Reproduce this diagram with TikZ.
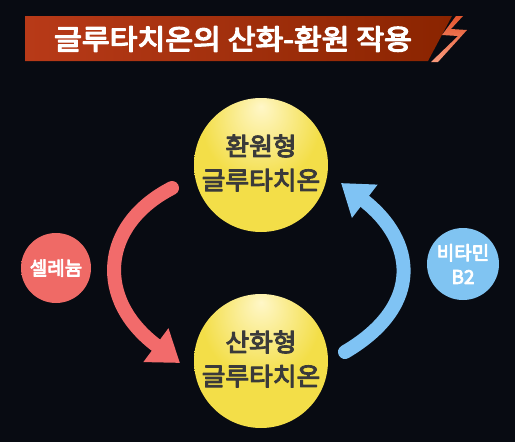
\documentclass[tikz,border=0pt]{standalone}
\usepackage{fontspec}
\setmainfont{Noto Sans CJK KR}
\usetikzlibrary{arrows.meta}
\definecolor{bgc}{HTML}{080B12}
\definecolor{bannerL}{HTML}{B83A18}
\definecolor{bannerR}{HTML}{8A2400}
\definecolor{boltT}{HTML}{E4552E}
\definecolor{boltB}{HTML}{F99A7C}
\definecolor{ylw}{HTML}{F3DE48}
\definecolor{ylwL}{HTML}{FFF7C8}
\definecolor{ylwD}{HTML}{C9B12A}
\definecolor{redc}{HTML}{EF6A66}
\definecolor{redD}{HTML}{B84442}
\definecolor{bluec}{HTML}{80C4F2}
\definecolor{blueD}{HTML}{5A98C4}
\definecolor{txt}{HTML}{3A3A3A}
\definecolor{arrred}{HTML}{F26B6B}
\definecolor{arrblue}{HTML}{7FC3F4}
% text drawn with fill+stroke render mode (heavier glyphs)
\newcommand{\outl}[3]{\special{pdf:code q 2 Tr 1 j #1 RG #2 w}#3\special{pdf:code Q}}
\pgfdeclareradialshading{yball}{\pgfpoint{0bp}{22bp}}{color(0bp)=(ylwL); color(22bp)=(ylw); color(58bp)=(ylw); color(72bp)=(ylwD)}
\pgfdeclareradialshading{rball}{\pgfpoint{0bp}{0bp}}{color(0bp)=(redc); color(40bp)=(redc); color(50bp)=(redD)}
\pgfdeclareradialshading{bball}{\pgfpoint{0bp}{0bp}}{color(0bp)=(bluec); color(40bp)=(bluec); color(50bp)=(blueD)}
\tikzset{
  bigball/.style={circle, minimum size=134pt, inner sep=0pt, shading=yball},
  redball/.style={circle, minimum size=70pt, inner sep=0pt, shading=rball},
  blueball/.style={circle, minimum size=72pt, inner sep=0pt, shading=bball},
  bigtxt/.style={font=\fontsize{25}{34}\selectfont, text=txt, align=center, xscale=1.03},
  smalltxt/.style={font=\fontsize{19}{24}\selectfont, text=white, align=center},
  bigarrow/.style={line width=14pt, line cap=round, -{Triangle[length=30pt,width=40pt]}},
}
\begin{document}
\begin{tikzpicture}[x=1pt,y=-1pt]
\fill[bgc] (0,0) rectangle (515,442);
\useasboundingbox (0,0) rectangle (515,442);
% banner
\shade[left color=bannerL, right color=bannerR] (25,16) -- (452,16) -- (428,61) -- (25,61) -- cycle;
\node[font=\fontsize{28}{30}\selectfont, text=white, xscale=1.08] (title) at (233,39) {\outl{1 1 1}{1.3}{글루타치온의 산화-환원 작용}};
% bolt
\shade[top color=boltT, bottom color=boltB] (456,16) -- (463,16) -- (451,29) -- (467,30) -- (438,62) -- (431,62) -- (458,36) -- (442,35) -- cycle;
% balls
\node[bigball] (reduced) at (261,165) {};
\node[bigball] (oxidized) at (261,361) {};
\node[redball] (selenium) at (56,268) {};
\node[blueball] (vitb) at (463,264) {};
\node[bigtxt] (redtxt) at (261,163) {\outl{0.23 0.23 0.23}{1.0}{환원형}\\\outl{0.23 0.23 0.23}{1.0}{글루타치온}};
\node[bigtxt] (oxtxt) at (261,359) {\outl{0.23 0.23 0.23}{1.0}{산화형}\\\outl{0.23 0.23 0.23}{1.0}{글루타치온}};
\node[smalltxt] (setxt) at (selenium) {\outl{1 1 1}{0.8}{셀레늄}};
\node[smalltxt] (vbtxt) at (vitb) {\outl{1 1 1}{0.8}{비타민}\\\outl{1 1 1}{0.8}{B2}};
% arrows
\coordinate (rs) at (172,188);
\coordinate (re) at (180,363);
\coordinate (bs) at (345,352);
\coordinate (be) at (341,183);
\draw[bigarrow, arrred] (rs) .. controls (100,225) and (95,300) .. (re);
\draw[bigarrow, arrblue] (bs) .. controls (425,305) and (415,240) .. (be);
\end{tikzpicture}
\end{document}
